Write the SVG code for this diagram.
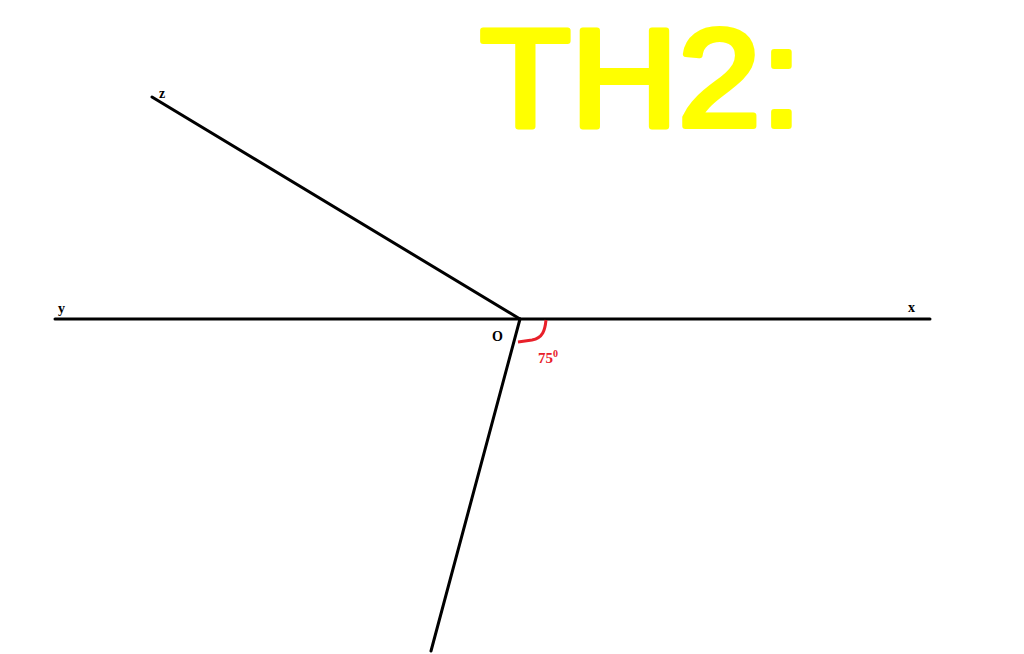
<svg xmlns="http://www.w3.org/2000/svg" width="1024" height="654" viewBox="0 0 1024 654">
<style>
.ln{stroke:#000;stroke-width:3;fill:none;stroke-linecap:round}
.lb{font-family:"Liberation Serif",serif;font-weight:bold;font-size:14px;fill:#000}
.red{font-family:"Liberation Serif",serif;font-weight:bold;font-size:15px;fill:#e8202a}
</style>
<rect width="1024" height="654" fill="#fff"/>
<g id="title">
<text x="480" y="126" font-family="Liberation Sans,sans-serif" font-size="140" fill="#ffff00" stroke="#ffff00" stroke-width="6" stroke-linejoin="round" textLength="322" lengthAdjust="spacingAndGlyphs">TH2:</text>
</g>
<g id="connectors">
<line class="ln" x1="55" y1="319" x2="930" y2="319"/>
<line class="ln" x1="152" y1="97" x2="520" y2="319"/>
<line class="ln" x1="520" y1="319" x2="431" y2="651"/>
<path d="M546,320 C545,330 543,338 532,340 L518,342" stroke="#e8202a" stroke-width="3" fill="none"/>
</g>
<g id="labels">
<text class="lb" x="159" y="98">z</text>
<text class="lb" x="58" y="313">y</text>
<text class="lb" x="908" y="312">x</text>
<text class="lb" x="492" y="341">O</text>
<text class="red" x="538" y="363">75<tspan font-size="10" dy="-6">0</tspan></text>
</g>
</svg>
